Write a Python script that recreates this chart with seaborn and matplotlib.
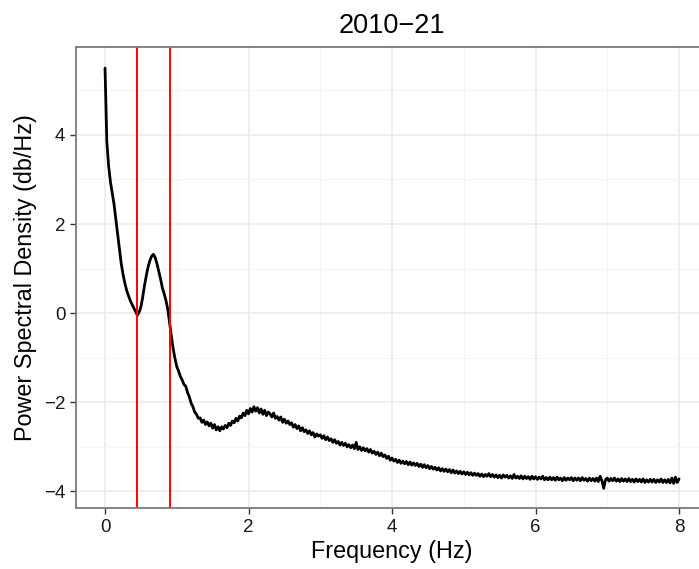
import numpy as np
import pandas as pd
import seaborn as sns
import matplotlib.pyplot as plt
from matplotlib.ticker import MultipleLocator

# frequency grid (Hz), one value every 0.025 Hz
freq = np.round(np.arange(0, 8.0001, 0.025), 3)

# power spectral density, 8 values per 0.2 Hz
psd = [
    5.50, 3.85, 3.30, 2.95, 2.70, 2.45, 2.12, 1.80,
    1.46, 1.12, 0.88, 0.68, 0.52, 0.40, 0.29, 0.20,
    0.12, 0.04, -0.05, 0.02, 0.14, 0.36, 0.62, 0.84,
    1.04, 1.18, 1.28, 1.32, 1.24, 1.10, 0.93, 0.76,
    0.56, 0.43, 0.28, 0.08, -0.22, -0.52, -0.80, -1.02,
    -1.20, -1.30, -1.42, -1.50, -1.60, -1.64, -1.78, -1.88,
    -2.02, -2.10, -2.22, -2.27, -2.36, -2.35, -2.45, -2.40,
    -2.50, -2.44, -2.53, -2.47, -2.58, -2.50, -2.62, -2.55,
    -2.64, -2.55, -2.60, -2.52, -2.57, -2.47, -2.52, -2.42,
    -2.46, -2.36, -2.42, -2.31, -2.35, -2.24, -2.30, -2.18,
    -2.26, -2.14, -2.22, -2.10, -2.20, -2.12, -2.24, -2.15,
    -2.27, -2.18, -2.30, -2.22, -2.26, -2.33, -2.24, -2.36,
    -2.32, -2.40, -2.33, -2.45, -2.38, -2.47, -2.42, -2.50,
    -2.46, -2.56, -2.50, -2.59, -2.53, -2.64, -2.57, -2.66,
    -2.62, -2.70, -2.64, -2.73, -2.68, -2.78, -2.71, -2.76,
    -2.73, -2.81, -2.75, -2.84, -2.78, -2.86, -2.82, -2.90,
    -2.84, -2.92, -2.88, -2.96, -2.90, -2.97, -2.92, -3.00,
    -2.95, -3.02, -2.96, -3.04, -2.90, -3.06, -3.00, -3.08,
    -3.02, -3.09, -3.04, -3.12, -3.06, -3.14, -3.10, -3.17,
    -3.12, -3.20, -3.14, -3.22, -3.18, -3.26, -3.21, -3.30,
    -3.25, -3.32, -3.28, -3.35, -3.30, -3.37, -3.32, -3.38,
    -3.33, -3.40, -3.34, -3.41, -3.36, -3.42, -3.37, -3.44,
    -3.39, -3.46, -3.40, -3.47, -3.42, -3.49, -3.44, -3.50,
    -3.46, -3.52, -3.47, -3.54, -3.49, -3.55, -3.50, -3.56,
    -3.51, -3.58, -3.52, -3.59, -3.54, -3.60, -3.55, -3.61,
    -3.56, -3.62, -3.57, -3.63, -3.58, -3.64, -3.59, -3.64,
    -3.60, -3.66, -3.61, -3.67, -3.62, -3.66, -3.60, -3.67,
    -3.62, -3.68, -3.63, -3.69, -3.64, -3.70, -3.63, -3.68,
    -3.64, -3.70, -3.65, -3.71, -3.62, -3.70, -3.66, -3.71,
    -3.65, -3.72, -3.66, -3.71, -3.67, -3.73, -3.66, -3.72,
    -3.67, -3.73, -3.68, -3.72, -3.66, -3.74, -3.69, -3.74,
    -3.68, -3.74, -3.69, -3.75, -3.68, -3.74, -3.70, -3.76,
    -3.69, -3.75, -3.70, -3.74, -3.69, -3.76, -3.70, -3.75,
    -3.70, -3.76, -3.69, -3.75, -3.71, -3.77, -3.70, -3.76,
    -3.71, -3.77, -3.70, -3.78, -3.66, -3.76, -3.93, -3.74,
    -3.70, -3.77, -3.71, -3.76, -3.70, -3.77, -3.72, -3.78,
    -3.71, -3.77, -3.72, -3.78, -3.71, -3.78, -3.73, -3.79,
    -3.72, -3.78, -3.73, -3.79, -3.72, -3.80, -3.74, -3.79,
    -3.73, -3.79, -3.73, -3.80, -3.74, -3.79, -3.72, -3.80,
    -3.74, -3.80, -3.73, -3.81, -3.70, -3.82, -3.68, -3.80,
    -3.72,
]

# band limits (Hz)
band = [0.45, 0.9]

df = pd.DataFrame({'freq': freq, 'psd': psd})

sns.set_theme(style='white')
plt.rcParams['font.family'] = ['Liberation Sans', 'DejaVu Sans']

fig = plt.figure(figsize=(6.99, 5.69), dpi=100)
ax = fig.add_axes([0.1092, 0.1072, 0.9033, 0.8102])

ax.xaxis.set_major_locator(MultipleLocator(2))
ax.xaxis.set_minor_locator(MultipleLocator(1))
ax.yaxis.set_major_locator(MultipleLocator(2))
ax.yaxis.set_minor_locator(MultipleLocator(1))
ax.grid(True, which='major', color='#EBEBEB', linewidth=1.1)
ax.grid(True, which='minor', color='#F4F4F4', linewidth=0.7)
ax.set_axisbelow(True)

sns.lineplot(data=df, x='freq', y='psd', color='black', linewidth=2.0,
             estimator=None, ax=ax)
for b in band:
    ax.axvline(b, color='red', linewidth=1.4)

ax.set_xlim(-0.4, 8.4)
ax.set_ylim(-4.3725, 5.9725)

for s in ax.spines.values():
    s.set_color('#7a7a7a')
    s.set_linewidth(1.3)
ax.tick_params(which='major', direction='out', length=4.3, width=1.0,
               color='#333333', labelcolor='#1a1a1a', labelsize=13.5, pad=3.5,
               bottom=True, left=True)
ax.tick_params(which='minor', length=0)

ax.set_xlabel('Frequency (Hz)', fontsize=16.8, color='black', labelpad=3)
ax.set_ylabel('Power Spectral Density (db/Hz)', fontsize=16.8, color='black', labelpad=5)
ax.set_title('2010\u221221', fontsize=19.5, color='black', pad=10)

fig.savefig('out.png', dpi=100)
